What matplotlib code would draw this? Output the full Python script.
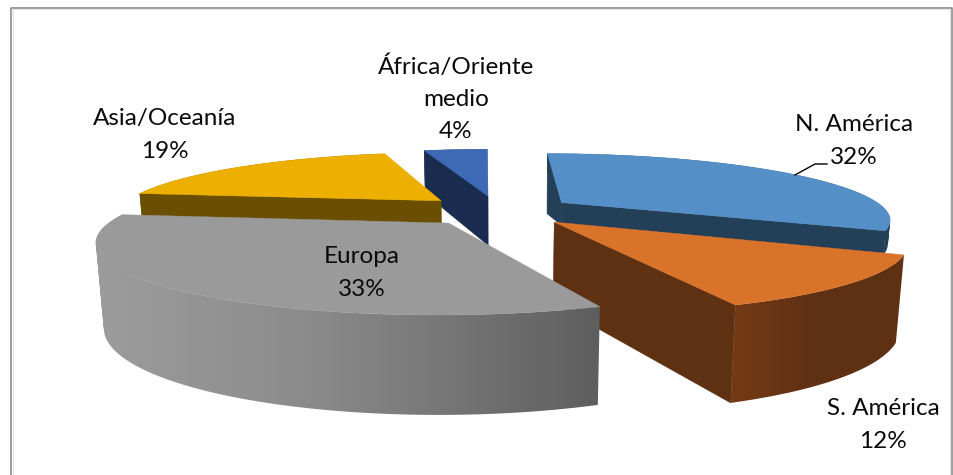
import numpy as np
import matplotlib
matplotlib.use('Agg')
import matplotlib.pyplot as plt
from matplotlib.path import Path

plt.rcParams['font.family'] = ['Lato', 'DejaVu Sans']

regions = ['N. América', 'S. América', 'Europa', 'Asia/Oceanía', 'África/Oriente\nmedio']
shares = [32, 12, 33, 19, 4]

# slice look: top colour, wall colours along screen x, wall height
top_colors = ['#5490C7', '#DA732A', '#9A9A9A', '#EDB000', '#3D69B5']
wall_stops = [
    [(550, '#243F58'), (900, '#243F58')],
    [(735, '#743A15'), (810, '#5F3113'), (900, '#5F3113')],
    [(100, '#9C9C9C'), (300, '#8C8C8C'), (450, '#767676'), (600, '#5E5E5E')],
    [(140, '#6B4F00'), (445, '#6B4F00')],
    [(420, '#1A2C50'), (495, '#1A2C50')],
]
face_colors = ['#243F58', '#5F3113', '#5E5E5E', '#6B4F00', '#1A2C50']
depths = [23, 79, 79, 24, 51]
rear_drop = [60, 0, 0, 0, 0]
draw_order = [4, 3, 0, 1, 2]

# pie geometry in pixels
cx, cy = 498, 210.5
rx, ry = 325, 63.6
persp = 0.232
explode = 0.24
skew = 0.05
n_arc = 160


def project(X, Y):
    s = 1 / (1 - persp * Y)
    y = ry * Y * s
    return cx + rx * X * s + skew * y, cy + y


def drop(x, y, h):
    # lower rim of a wall: shifted down, a little narrower, a little deeper
    kx = 1 - 0.02 * h / 79
    ky = 1 + 0.2 * h / 79
    return cx + (x - cx) * kx, cy + (y - cy) * ky + h


def face_visible(a, b, m):
    # a wall hanging from edge a-b shows only if the top lies on its far side
    ux, uy = b[0] - a[0], b[1] - a[1]
    side_m = ux * (m[1] - a[1]) - uy * (m[0] - a[0])
    return side_m * ux < 0


def wall_gradient(x0, x1, stops):
    xs = np.linspace(x0, x1, 400)
    sx = [p[0] for p in stops]
    rgb = np.array([matplotlib.colors.to_rgb(p[1]) for p in stops])
    return np.stack([np.interp(xs, sx, rgb[:, k]) for k in range(3)], axis=1)[None, :, :]


def wall_path(tx, ty, lx, ly):
    # one quad per arc step, all wound the same way so the fold at the side stays filled
    parts = []
    for j in range(len(tx) - 1):
        q = np.array([[tx[j], ty[j]], [tx[j + 1], ty[j + 1]], [lx[j + 1], ly[j + 1]], [lx[j], ly[j]]])
        area = np.sum(q[:, 0] * np.roll(q[:, 1], -1) - np.roll(q[:, 0], -1) * q[:, 1])
        if area < 0:
            q = q[::-1]
        parts.append(Path(np.vstack([q, q[0]]), closed=True))
    return Path.make_compound_path(*parts)


fig = plt.figure(figsize=(9.54, 4.75), dpi=100)
ax = fig.add_axes([0, 0, 1, 1])
ax.axis('off')

# chart frame, open at the bottom
ax.plot([11.5, 11.5, 952, 952], [480, 7.5, 7.5, 480], color='#8C8C8C', lw=1.2)
ax.plot([13, 13, 950.5, 950.5], [480, 9, 9, 480], color='#E4E4E4', lw=0.8)

angles = np.cumsum([0] + shares) / sum(shares) * 360

for z, i in enumerate(draw_order):
    a0, a1 = np.radians(angles[i]), np.radians(angles[i + 1])
    mid = (a0 + a1) / 2
    ox, oy = explode * np.sin(mid), -explode * np.cos(mid)
    t = np.linspace(a0, a1, n_arc)
    arc_x, arc_y = project(ox + np.sin(t), oy - np.cos(t))
    px, py = project(ox, oy)
    h = depths[i]
    bx, by = drop(arc_x, arc_y, h)
    pbx, pby = drop(px, py, h)
    level = 10 + z * 5
    marc = (arc_x[n_arc // 2], arc_y[n_arc // 2])

    # radial faces
    for k in (0, -1):
        if face_visible((px, py), (arc_x[k], arc_y[k]), marc):
            cby = by[k]
            if k == 0 and rear_drop[i]:
                cby = arc_y[k] + rear_drop[i]
            ax.fill([px, arc_x[k], bx[k], pbx], [py, arc_y[k], cby, pby],
                    color=face_colors[i], lw=0.4, zorder=level)

    # outer wall, shaded along x
    x0, x1 = min(arc_x.min(), bx.min()), max(arc_x.max(), bx.max())
    y0, y1 = min(arc_y.min(), by.min()), max(arc_y.max(), by.max())
    im = ax.imshow(wall_gradient(x0, x1, wall_stops[i]), aspect='auto',
                   extent=[x0, x1, y1, y0], zorder=level + 1)
    im.set_clip_path(wall_path(arc_x, arc_y, bx, by), transform=ax.transData)

    # top
    ax.fill(np.r_[px, arc_x], np.r_[py, arc_y], color=top_colors[i], lw=0.3, zorder=level + 2)

# labels
label_xy = [(854, 124.5), (883, 408.5), (362, 256.5), (165, 118.5), (456, 66.5)]
line_gap = 32.5
for name, share, (lx, ly) in zip(regions, shares, label_xy):
    for j, line in enumerate(name.split('\n') + ['%d%%' % share]):
        ax.text(lx, ly + j * line_gap, line, fontsize=17.5, color='#0A0A0A', ha='center', va='center', zorder=50)

# leader line for N. América
ax.plot([795, 815, 827], [175, 164, 164], color='black', lw=1, zorder=50)

ax.set_xlim(0, 954)
ax.set_ylim(475, 0)
fig.savefig('out.png', dpi=100)
